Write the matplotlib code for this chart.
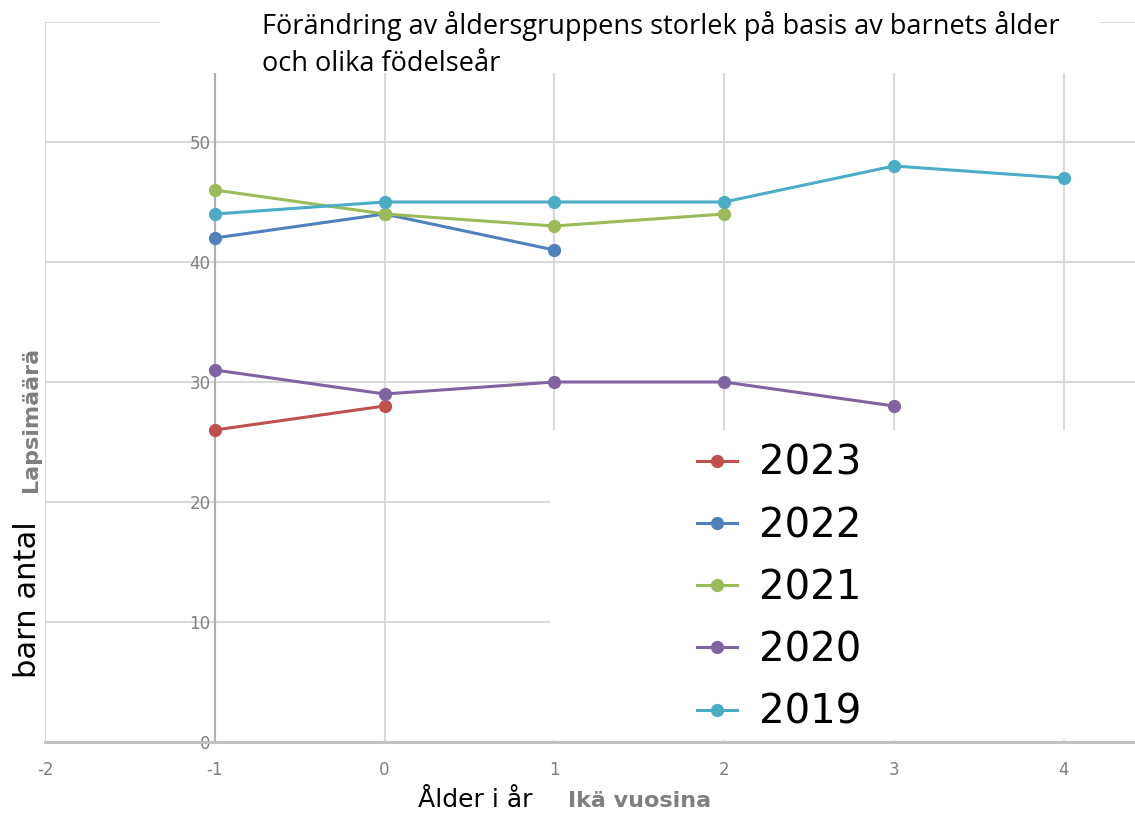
import matplotlib.pyplot as plt
from matplotlib.patches import Rectangle

plt.rcParams["axes.unicode_minus"] = False

# values
ages = [-1, 0, 1, 2, 3, 4]
y2023 = [26, 28]
y2022 = [42, 44, 41]
y2021 = [46, 44, 43, 44]
y2020 = [31, 29, 30, 30, 28]
y2019 = [44, 45, 45, 45, 48, 47]

series = [("2023", y2023, "#C0504D"),
          ("2022", y2022, "#4F81BD"),
          ("2021", y2021, "#9BBB59"),
          ("2020", y2020, "#8064A2"),
          ("2019", y2019, "#4BACC6")]

xticks = [-2, -1, 0, 1, 2, 3, 4]
yticks = [0, 10, 20, 30, 40, 50, 60]
ytick_labels = ["0", "10", "20", "30", "40", "50", ""]

title = "Förändring av åldersgruppens storlek på basis av barnets ålder\noch olika födelseår"

W, H = 1135, 814
fig = plt.figure(figsize=(W / 100, H / 100), dpi=100)
ax = fig.add_axes([45 / W, 1 - 742 / H, 1 - 45 / W, (742 - 22) / H])

ax.set_xlim(-2, 4.42)
ax.set_ylim(0, 60)
ax.set_xticks(xticks)
ax.set_yticks(yticks)
ax.set_yticklabels(ytick_labels)
ax.grid(True, color="#d9d9d9", lw=1.5, zorder=0)
ax.set_axisbelow(True)
for s in ("top", "right"):
    ax.spines[s].set_visible(False)
ax.spines["left"].set_position(("data", -1))
ax.spines["left"].set_color("#b0b0b0")
ax.spines["bottom"].set_color("#bfbfbf")
ax.spines["left"].set_linewidth(1.5)
ax.spines["bottom"].set_linewidth(2)
ax.tick_params(axis="y", length=0, pad=3, labelsize=12, labelcolor="#7f7f7f")
ax.tick_params(axis="x", length=0, pad=14, labelsize=12, labelcolor="#7f7f7f")

for name, vals, col in series:
    ax.plot(ages[:len(vals)], vals, color=col, lw=2.2, marker="o", ms=8.5,
            label=name, zorder=3)

# white boxes hiding parts of the grid (title box, legend box)
fig.add_artist(Rectangle((160 / W, 1 - 73 / H), 940 / W, 73 / H,
                         transform=fig.transFigure, facecolor="white",
                         edgecolor="none", zorder=2))
fig.add_artist(Rectangle((550 / W, 1 - 740 / H), 585 / W, 310 / H,
                         transform=fig.transFigure, facecolor="white",
                         edgecolor="none", zorder=2))

fig.text(262 / W, 1 - 11 / H, title, ha="left", va="top", fontsize=19.5,
         family="Open Sans", linespacing=1.42, zorder=4)

leg = fig.legend(loc="upper left", bbox_to_anchor=(697 / W, 1 - 444 / H),
                 frameon=False, fontsize=29, handlelength=1.0,
                 handletextpad=0.55, labelspacing=0.55, borderaxespad=0,
                 borderpad=0)
leg.set_zorder(5)

fig.text(28 / W, 1 - 600 / H, "barn antal", rotation=90, ha="center",
         va="center", fontsize=22)
fig.text(31 / W, 1 - 419 / H, "Lapsimäärä", rotation=90, ha="center",
         va="center", fontsize=16, fontweight="bold", color="#7f7f7f")
fig.text(475 / W, 1 - 800 / H, "Ålder i år", ha="center", va="center",
         fontsize=18)
fig.text(640 / W, 1 - 801 / H, "Ikä vuosina", ha="center", va="center",
         fontsize=16, fontweight="bold", color="#7f7f7f")

fig.savefig("out.png", dpi=100)
